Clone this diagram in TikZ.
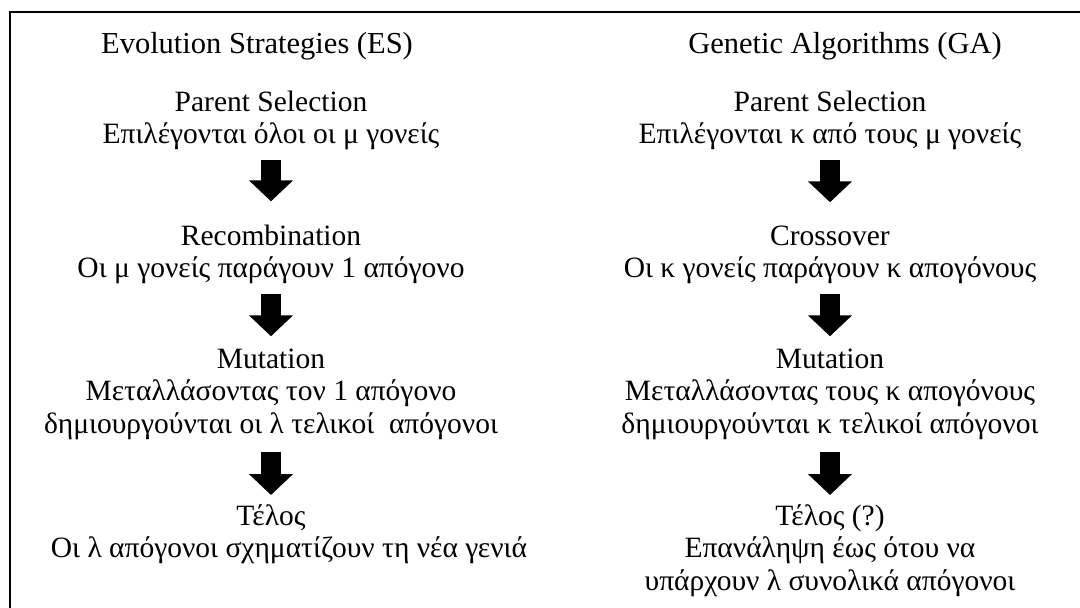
\documentclass[tikz,border=0pt]{standalone}
\usepackage{fontspec}
\setmainfont{Liberation Serif}
\usepackage{tikz}
\usetikzlibrary{arrows.meta,positioning}
\tikzset{
  stepbox/.style={align=center,inner sep=0pt,anchor=base,
                  font=\fontsize{29.5}{32.5}\selectfont},
  headbox/.style={stepbox,font=\fontsize{30.5}{32.5}\selectfont},
  bigarr/.style={-{Triangle[width=43pt,length=21pt]},line width=20pt},
}

\begin{document}
\begin{tikzpicture}[x=1pt,y=1pt]
        \useasboundingbox (0,0) rectangle (1080,-608);
        \draw[line width=2pt] (10,-620) -- (10,-12) -- (1090,-12);

        % Evolution Strategies (base = last line)
        \node[headbox] (es) at (257,-53) {Evolution Strategies (ES)};
        \node[stepbox] (es1) at (271,-143.5) {Parent Selection\\Επιλέγονται όλοι οι μ γονείς};
        \node[stepbox] (es2) at (271,-277.5) {Recombination\\Οι μ γονείς παράγουν 1 απόγονο};
        \node[stepbox] (es3) at (271,-433) {Mutation\\Μεταλλάσοντας τον 1 απόγονο\\δημιουργούνται οι λ τελικοί\ \ απόγονοι};
        \node[stepbox] (es4) at (271,-557.5) {Τέλος\\\hspace*{36pt}Οι λ απόγονοι σχηματίζουν τη νέα γενιά};

        % Genetic Algorithms
        \node[headbox] (ga) at (845,-53) {Genetic Algorithms (GA)};
        \node[stepbox] (ga1) at (830,-143.5) {Parent Selection\\Επιλέγονται κ από τους μ γονείς};
        \node[stepbox] (ga2) at (830,-277.5) {Crossover\\Οι κ γονείς παράγουν κ απογόνους};
        \node[stepbox] (ga3) at (830,-433) {Mutation\\Μεταλλάσοντας τους κ απογόνους\\δημιουργούνται κ τελικοί απόγονοι};
        \node[stepbox] (ga4) at (830,-590) {Τέλος (?)\\Επανάληψη έως ότου να\\υπάρχουν λ συνολικά απόγονοι};

        \foreach \c in {es,ga}{
          \draw[bigarr,shorten <=10pt,shorten >=23pt] (\c1) -- (\c2);
          \draw[bigarr,shorten <=10pt,shorten >=12pt] (\c2) -- (\c3);
          \draw[bigarr,shorten <=12pt,shorten >=9pt] (\c3) -- (\c4);
        }
      \end{tikzpicture}
\end{document}
